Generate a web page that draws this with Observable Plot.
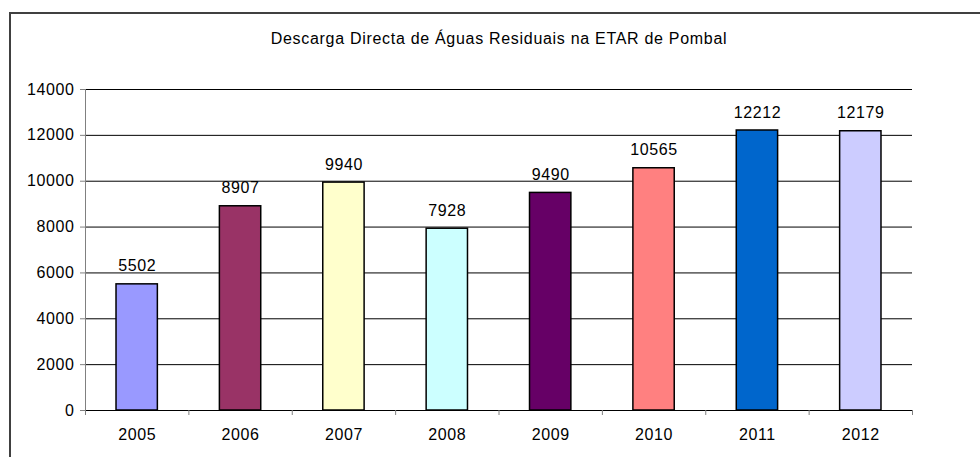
<!DOCTYPE html>
<html>
<head>
<meta charset="utf-8">
<script src="https://cdn.jsdelivr.net/npm/d3@7"></script>
<script src="https://cdn.jsdelivr.net/npm/@observablehq/plot@0.6"></script>
<style>
  html, body { margin: 0; padding: 0; background: #fff; }
  #wrap { position: relative; width: 980px; height: 457px; overflow: hidden; font-family: "Liberation Sans", Arial, sans-serif; }
  #frame { position: absolute; left: 9px; top: 12px; width: 1000px; height: 500px; border: 2px solid #404040; box-sizing: border-box; }
  #title { position: absolute; left: 0; width: 998px; top: 30px; text-align: center; font-size: 16px; letter-spacing: 0.7px; color: #000; }
  #chart { position: absolute; left: 0; top: 0; }
  #chart svg text { letter-spacing: 0.6px; font-size: 16px; }
</style>
</head>
<body>
<div id="wrap">
  <div id="frame"></div>
  <div id="title">Descarga Directa de Águas Residuais na ETAR de Pombal</div>
  <div id="chart"></div>
</div>
<script>
const years = [2005, 2006, 2007, 2008, 2009, 2010, 2011, 2012];
const values = [5502, 8907, 9940, 7928, 9490, 10565, 12212, 12179];
const colors = ["#9999FF", "#993366", "#FFFFCC", "#CCFFFF", "#660066", "#FF8080", "#0066CC", "#CCCCFF"];
const yTicks = [0, 2000, 4000, 6000, 8000, 10000, 12000, 14000];

const data = years.map((year, i) => ({year, value: values[i], color: colors[i]}));
const boundaries = [years[0] - 0.5, ...years.map(y => y + 0.5)];
const halfBar = 0.2;

const plot = Plot.plot({
  width: 980,
  height: 457,
  marginTop: 89,
  marginLeft: 85,
  marginRight: 68,
  marginBottom: 47,
  style: {fontFamily: "'Liberation Sans', Arial, sans-serif", fontSize: "16px", background: "transparent", color: "#000"},
  x: {type: "linear", domain: [boundaries[0], boundaries[boundaries.length - 1]], label: null},
  y: {domain: [0, 14000], label: null},
  marks: [
    Plot.gridY(yTicks, {stroke: "#000", strokeOpacity: 1, strokeWidth: 1}),
    Plot.ruleX([boundaries[0]], {stroke: "#808080", strokeWidth: 1}),
    Plot.rectY(data, {x1: d => d.year - halfBar, x2: d => d.year + halfBar, y1: 0, y2: "value", fill: "color", stroke: "#000", strokeWidth: 1.5}),
    Plot.text(data, {x: "year", y: "value", text: d => String(d.value), dy: -18, fontSize: 16, fill: "#000"}),
    Plot.axisY(yTicks, {tickSize: 5, tickPadding: 6, tickFormat: d3.format("d"), stroke: "#808080", fontSize: 16, fill: "#000", label: null}),
    Plot.axisX(boundaries, {tickSize: 5, tickFormat: () => "", stroke: "#808080", label: null}),
    Plot.axisX(years, {tickSize: 0, tickPadding: 18, tickFormat: d3.format("d"), fontSize: 16, fill: "#000", label: null})
  ]
});
document.getElementById("chart").appendChild(plot);
</script>
</body>
</html>
